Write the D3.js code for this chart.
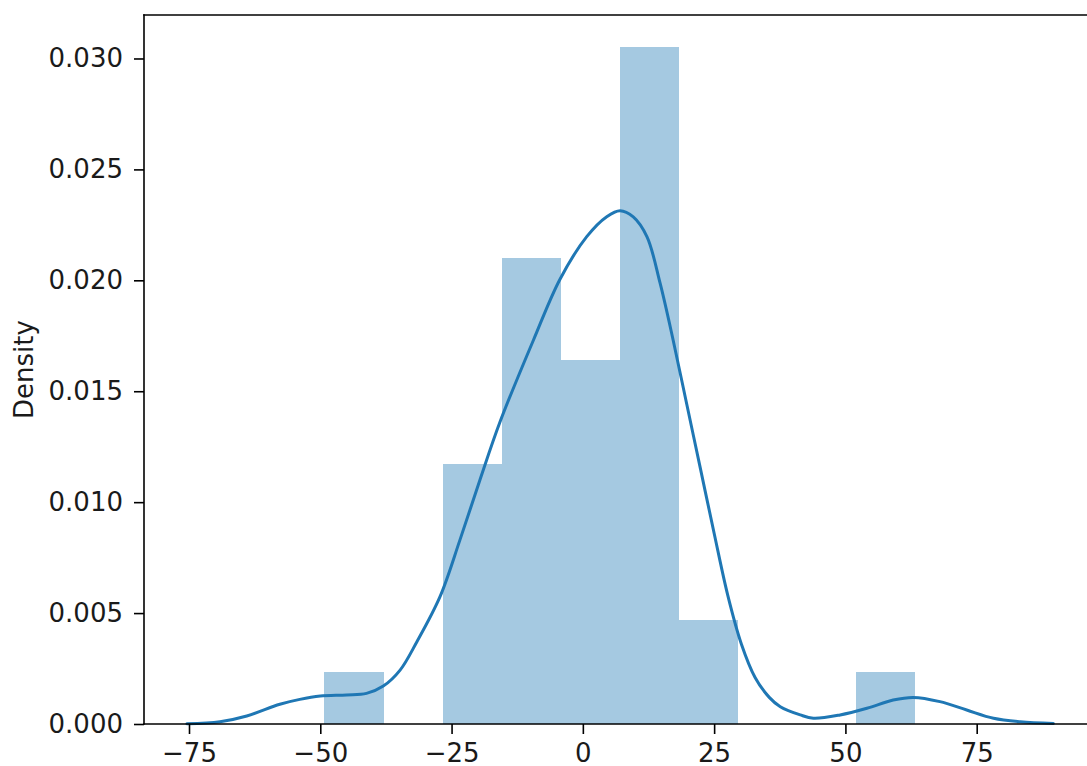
<!DOCTYPE html>
<html>
<head>
<meta charset="utf-8">
<script src="https://cdn.jsdelivr.net/npm/d3@7"></script>
<style>
  html, body { margin: 0; padding: 0; background: #fff; }
  svg { display: block; }
</style>
</head>
<body>
<div id="chart"></div>
<script>
// histogram bins (density)
const binEdges = [-49.2, -37.95, -26.7, -15.45, -4.2, 7.05, 18.3, 29.55, 40.8, 52.05, 63.3];
const binDensity = [0.00235, 0, 0.0117, 0.0210, 0.0164, 0.0305, 0.0047, 0, 0, 0.00235];

// KDE curve, sampled by eye
const kdeX = [-75.4, -69.1, -64.0, -57.7, -53.9, -50.0, -45.0, -41.2, -38.0, -34.8, -31.6,
  -27.2, -23.4, -19.6, -15.8, -9.4, -4.35, 0.74, 4.55, 7.1, 9.6, 12.2, 14.7, 17.2, 19.8,
  22.4, 25.0, 27.6, 30.2, 32.8, 35.5, 37.6, 41.4, 43.9, 49.0, 54.1, 59.1, 62.9, 68.0, 73.1,
  78.2, 83.3, 89.6];
const kdeY = [0.00001, 0.0001, 0.00036, 0.00089, 0.00111, 0.00126, 0.00131, 0.00138, 0.00171,
  0.00243, 0.00371, 0.00574, 0.0083, 0.011, 0.0136, 0.01731, 0.02005, 0.02197, 0.02287,
  0.02314, 0.02286, 0.02197, 0.01988, 0.0173, 0.0144, 0.0115, 0.0086, 0.0058, 0.0036,
  0.0021, 0.0012, 0.00078, 0.00041, 0.00026, 0.00041, 0.00071, 0.00108, 0.0012, 0.00101,
  0.00063, 0.00026, 0.0001, 0.00002];

const xTicks = [-75, -50, -25, 0, 25, 50, 75];
const yTicks = [0, 0.005, 0.010, 0.015, 0.020, 0.025, 0.030];
const yLabel = 'Density';

const W = 1087, H = 766;
const plot = { left: 144, right: 1096, top: 15, bottom: 724 };
const font = 'DejaVu Sans, sans-serif';
const blue = '#1f77b4';

const svg = d3.select('#chart').append('svg')
  .attr('width', W)
  .attr('height', H);

const x = d3.scaleLinear()
  .domain([-83.57, 97.72])
  .range([plot.left, plot.right]);

const y = d3.scaleLinear()
  .domain([0, 0.03196])
  .range([plot.bottom, plot.top]);

// bars
const bins = binDensity.map((d, i) => ({ x0: binEdges[i], x1: binEdges[i + 1], v: d }));
svg.append('g')
  .selectAll('rect')
  .data(bins)
  .enter()
  .append('rect')
  .attr('x', d => x(d.x0))
  .attr('width', d => x(d.x1) - x(d.x0))
  .attr('y', d => y(d.v))
  .attr('height', d => y(0) - y(d.v))
  .attr('fill', blue)
  .attr('fill-opacity', 0.4)
  .attr('shape-rendering', 'crispEdges');

// kde line
const kde = kdeX.map((v, i) => [v, kdeY[i]]);
const line = d3.line()
  .x(d => x(d[0]))
  .y(d => y(d[1]))
  .curve(d3.curveCatmullRom.alpha(0.5));

svg.append('path')
  .datum(kde)
  .attr('fill', 'none')
  .attr('stroke', blue)
  .attr('stroke-width', 3)
  .attr('stroke-linejoin', 'round')
  .attr('stroke-linecap', 'round')
  .attr('d', line);

// axes
const xAxis = d3.axisBottom(x)
  .tickValues(xTicks)
  .tickSize(10)
  .tickPadding(10)
  .tickFormat(d => d < 0 ? '\u2212' + Math.abs(d) : String(d));

const gx = svg.append('g')
  .attr('transform', `translate(0,${plot.bottom})`)
  .call(xAxis);
gx.select('.domain').remove();
gx.selectAll('line').attr('stroke', '#000').attr('stroke-width', 1.6);
gx.selectAll('text')
  .attr('fill', '#1a1a1a')
  .style('font-family', font)
  .style('font-size', '26px')
  .attr('dy', '0.71em');

const yAxis = d3.axisLeft(y)
  .tickValues(yTicks)
  .tickSize(10)
  .tickPadding(11)
  .tickFormat(d3.format('.3f'));

const gy = svg.append('g')
  .attr('transform', `translate(${plot.left},0)`)
  .call(yAxis);
gy.select('.domain').remove();
gy.selectAll('line').attr('stroke', '#000').attr('stroke-width', 1.6);
gy.selectAll('text')
  .attr('fill', '#1a1a1a')
  .style('font-family', font)
  .style('font-size', '26px');

// spines
const spine = svg.append('g')
  .attr('fill', 'none')
  .attr('stroke', '#000')
  .attr('stroke-width', 1.6)
  .attr('stroke-linecap', 'square');
spine.append('line').attr('x1', plot.left).attr('x2', plot.left).attr('y1', plot.top).attr('y2', plot.bottom);
spine.append('line').attr('x1', plot.left).attr('x2', plot.right).attr('y1', plot.bottom).attr('y2', plot.bottom);
spine.append('line').attr('x1', plot.left).attr('x2', plot.right).attr('y1', plot.top).attr('y2', plot.top);
spine.append('line').attr('x1', plot.right).attr('x2', plot.right).attr('y1', plot.top).attr('y2', plot.bottom);

// y label
svg.append('text')
  .attr('transform', `translate(33,${(plot.top + plot.bottom) / 2}) rotate(-90)`)
  .attr('text-anchor', 'middle')
  .attr('fill', '#1a1a1a')
  .style('font-family', font)
  .style('font-size', '26px')
  .text(yLabel);
</script>
</body>
</html>
